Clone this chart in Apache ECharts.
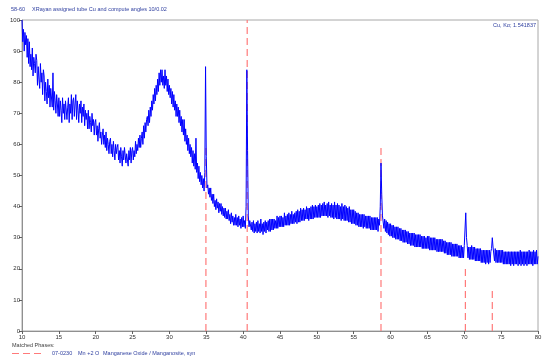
<!DOCTYPE html>
<html>
<head>
<meta charset="utf-8">
<script src="https://cdn.jsdelivr.net/npm/echarts@6/dist/echarts.min.js"></script>
<style>html,body{margin:0;padding:0;background:#fff}#c{width:550px;height:364px}</style>
</head>
<body>
<div id="c"></div>
<script>
// Scan grid: 10 to 80 degrees 2-theta, one reading every 0.1 degree
const startAngle = 10;
const stepAngle = 0.1;
// Intensity readings (% of max), one row per degree
const intensity = [
100,93,97,90,96,92,95,88,94,86,
93,85,89,84,91,82,88,86,83,89,
87,79,85,81,78,86,80,83,76,84,
82,74,80,77,73,81,75,79,72,78,
78,72,83,71,77,74,70,76,73,69,
75,69,74,71,67,75,70,73,68,74,
74,68,72,75,67,73,70,76,68,74,
75,69,73,76,68,74,71,67,73,70,
74,67,72,69,73,66,71,68,70,65,
71,65,69,67,64,70,66,68,63,67,
68,63,66,61,65,67,62,64,60,63,
65,60,63,59,64,58,62,60,57,61,
62,57,60,56,61,58,55,60,57,59,
60,55,58,54,59,56,53,58,55,59,
59,54,57,55,53,58,55,59,54,58,
59,55,58,56,61,57,60,58,62,59,
63,59,62,64,60,66,62,67,64,68,
69,66,71,67,72,69,74,71,76,73,
78,74,79,76,81,77,83,79,84,80,
84,79,82,78,84,79,82,77,81,76,
79,75,78,73,77,72,76,71,74,69,
73,69,72,67,71,66,69,64,68,63,
68,61,65,60,63,58,62,57,60,56,
59,54,58,53,57,52,62,51,54,49,
53,48,51,47,50,46,49,45,51,85,
56,46,47,44,46,43,46,42,44,41,
44,40,42,39,42.5,39.5,41.5,38,41,38.5,
41,37.5,40,37,39.5,36.5,39.5,36,38.5,36,
39,35.5,37.5,34.5,38,35,37,34,36.5,34,
37.5,34,36.5,33.5,37,34,36,33,36.5,33.5,
37,33.5,35.5,33,40,84,58,37,33.5,35.5,
36,32.5,35,32,35.5,31.5,34.5,32,35,31.5,
35.5,32,34.5,31.5,36,32,34.5,31,35,32,
35.5,31.5,35,32.5,35.5,32,36,32,36,32.5,
36,32.5,36,33,35.5,33,37,33,36.5,33.5,
37,33.5,37,33.5,36.5,33.5,38,34,37,34,
37.5,34,38,34,37.5,34.5,38.5,34.5,37.5,34.5,
38,35,38.5,34.5,39,35,38.5,35,39.5,35.5,
39,35.5,39.5,35.5,39,36,40,36,39.5,35.5,
39.5,36,40,36,40.5,36,40,36.5,40.5,36.5,
40,36.5,40.5,36.5,41,36.5,40.5,37,41,37,
41.5,37,40.5,37,41,36.5,41.5,37,40.5,36.5,
41,36.5,40.5,36,41.5,36.5,40.5,36,41,36,
40.5,36,40,35.5,41,36,40,35.5,40.5,35.5,
40,35.5,39.5,35,40,35,39,34.5,39,34.5,
39,34.5,38.5,34,38,34,38,33.5,37.5,33.5,
37.5,33.5,37.5,33,37.5,33.5,37,33,37,33,
37,33,37,32.5,36.5,32.5,36.5,32.5,36.5,32.5,
36.5,32.5,36.5,32,36,34,40,54,44,37,
37,33,36,32,35.5,31.5,35,31,34.5,30.5,
34.5,30.5,34,30,34,30,33.5,29.5,33.5,29.5,
33.5,29.5,33,29,33,29,32.5,28.5,32.5,28.5,
32.5,28.5,32,28,32,28,31.5,27.5,31.5,27.5,
31.5,27.5,31.5,27,31,27,31,27,31,27,
31,27,30.5,26.5,30.5,26.5,30.5,26.5,30,26.5,
30.5,26.5,30.5,26,30,26,30,26,30,26,
30,26,29.5,25.5,29.5,25.5,29.5,25.5,29.5,25.5,
29.5,25.5,29,25,29,25,28.5,24.5,28.5,24.5,
28.5,24.5,28.5,24,28,24,28,24,28,24,
28,24,27.5,23.5,27.5,23.5,27.5,23.5,27,23.5,
27.5,28,38,30,27.5,23.5,27,23,27,23,
27.5,23,27,23,27,22.5,26.5,22.5,26.5,22.5,
26.5,22.5,26.5,22,26,22,26,22,26,21.5,
26,22,26,21.5,26,22,25.5,26.5,30,27,
26.5,22.5,26.5,22,26,22,26,22,26,22,
26,22,26,21.5,25.5,21.5,25.5,21.5,25.5,21.5,
25.5,21.5,25.5,21,25.5,21.5,25.5,21,25.5,21.5,
25.5,21.5,25.5,21,25.5,21.5,26,21,25.5,21.5,
25.5,21,25.5,21.5,25.5,21,25.5,21.5,26,21.5,
25.5,21.5,25.5,21,26,21.5,25.5,21.5,26,21.5,
24
];
// Matched phase reference sticks (07-0230 MnO)
const stickAngles = [34.95, 40.55, 58.7, 70.15, 73.8];
const stickHeights = [60, 100, 60, 20, 14];
// Axis tick values
const xTicks = [10,15,20,25,30,35,40,45,50,55,60,65,70,75,80];
const yTicks = [0,10,20,30,40,50,60,70,80,90,100];

const pattern = intensity.map((v, i) => [+(startAngle + i * stepAngle).toFixed(2), v]);
const sticks = stickAngles.map((a, i) => [a, stickHeights[i]]);

const chart = echarts.init(document.getElementById('c'), null, {renderer: 'canvas'});
const FONT = 'Liberation Sans Narrow, Liberation Sans, Arial, sans-serif';
const blueText = '#3040a0';
chart.setOption({
  animation: false,
  backgroundColor: '#ffffff',
  grid: {left: 22, right: 12, top: 20, bottom: 33, show: true, borderColor: '#a8a8a8', borderWidth: 1},
  xAxis: {
    type: 'value', min: xTicks[0], max: xTicks[xTicks.length - 1], interval: 5,
    axisLine: {show: true, onZero: false, lineStyle: {color: '#909090', width: 1}},
    axisTick: {show: true, length: 3, lineStyle: {color: '#606060'}},
    axisLabel: {fontSize: 6, color: '#303030', margin: 3, fontFamily: FONT},
    splitLine: {show: false}
  },
  yAxis: {
    type: 'value', min: yTicks[0], max: yTicks[yTicks.length - 1], interval: 10,
    axisLine: {show: true, lineStyle: {color: '#909090', width: 1}},
    axisTick: {show: true, length: 3, lineStyle: {color: '#606060'}},
    axisLabel: {fontSize: 6, color: '#303030', margin: 2, fontFamily: FONT},
    splitLine: {show: false}
  },
  series: [
    {
      type: 'custom', z: 1, data: sticks, clip: true,
      renderItem: function (params, api) {
        const p0 = api.coord([api.value(0), 0]);
        const p1 = api.coord([api.value(0), api.value(1)]);
        return {type: 'line', shape: {x1: p0[0], y1: p0[1], x2: p1[0], y2: p1[1]},
          style: {stroke: '#ff7a7a', lineWidth: 1.2, lineDash: [7, 4]}};
      }
    },
    {
      type: 'line', z: 2, data: pattern, showSymbol: false, symbol: 'none', sampling: null,
      lineStyle: {color: '#0000ff', width: 1}, clip: true
    }
  ],
  graphic: [
    {type: 'text', left: 11, top: 6, style: {text: '58-60', fontSize: 5.5, fill: blueText, fontFamily: FONT}},
    {type: 'text', left: 32, top: 6, style: {text: 'XRayan assigned tube Cu and compute angles 10/0.02', fontSize: 5.5, fill: blueText, fontFamily: FONT}},
    {type: 'text', right: 14, top: 22, style: {text: 'Cu, K\u03b1; 1.541837', fontSize: 5.5, fill: blueText, fontFamily: FONT}},
    {type: 'text', left: 12, top: 342, style: {text: 'Matched Phases:', fontSize: 5.5, fill: '#404040', fontFamily: FONT}},
    {type: 'line', shape: {x1: 12, y1: 353.5, x2: 42, y2: 353.5}, style: {stroke: '#ff7a7a', lineWidth: 1.2, lineDash: [7, 4]}},
    {type: 'text', left: 52, top: 350.5, style: {text: '07-0230', fontSize: 5.5, fill: blueText, fontFamily: FONT}},
    {type: 'text', left: 78, top: 350.5, style: {text: 'Mn +2 O', fontSize: 5.5, fill: blueText, fontFamily: FONT}},
    {type: 'text', left: 103, top: 350.5, style: {text: 'Manganese Oxide / Manganosite, syn', fontSize: 5.5, fill: blueText, fontFamily: FONT}}
  ]
});
</script>
</body>
</html>
